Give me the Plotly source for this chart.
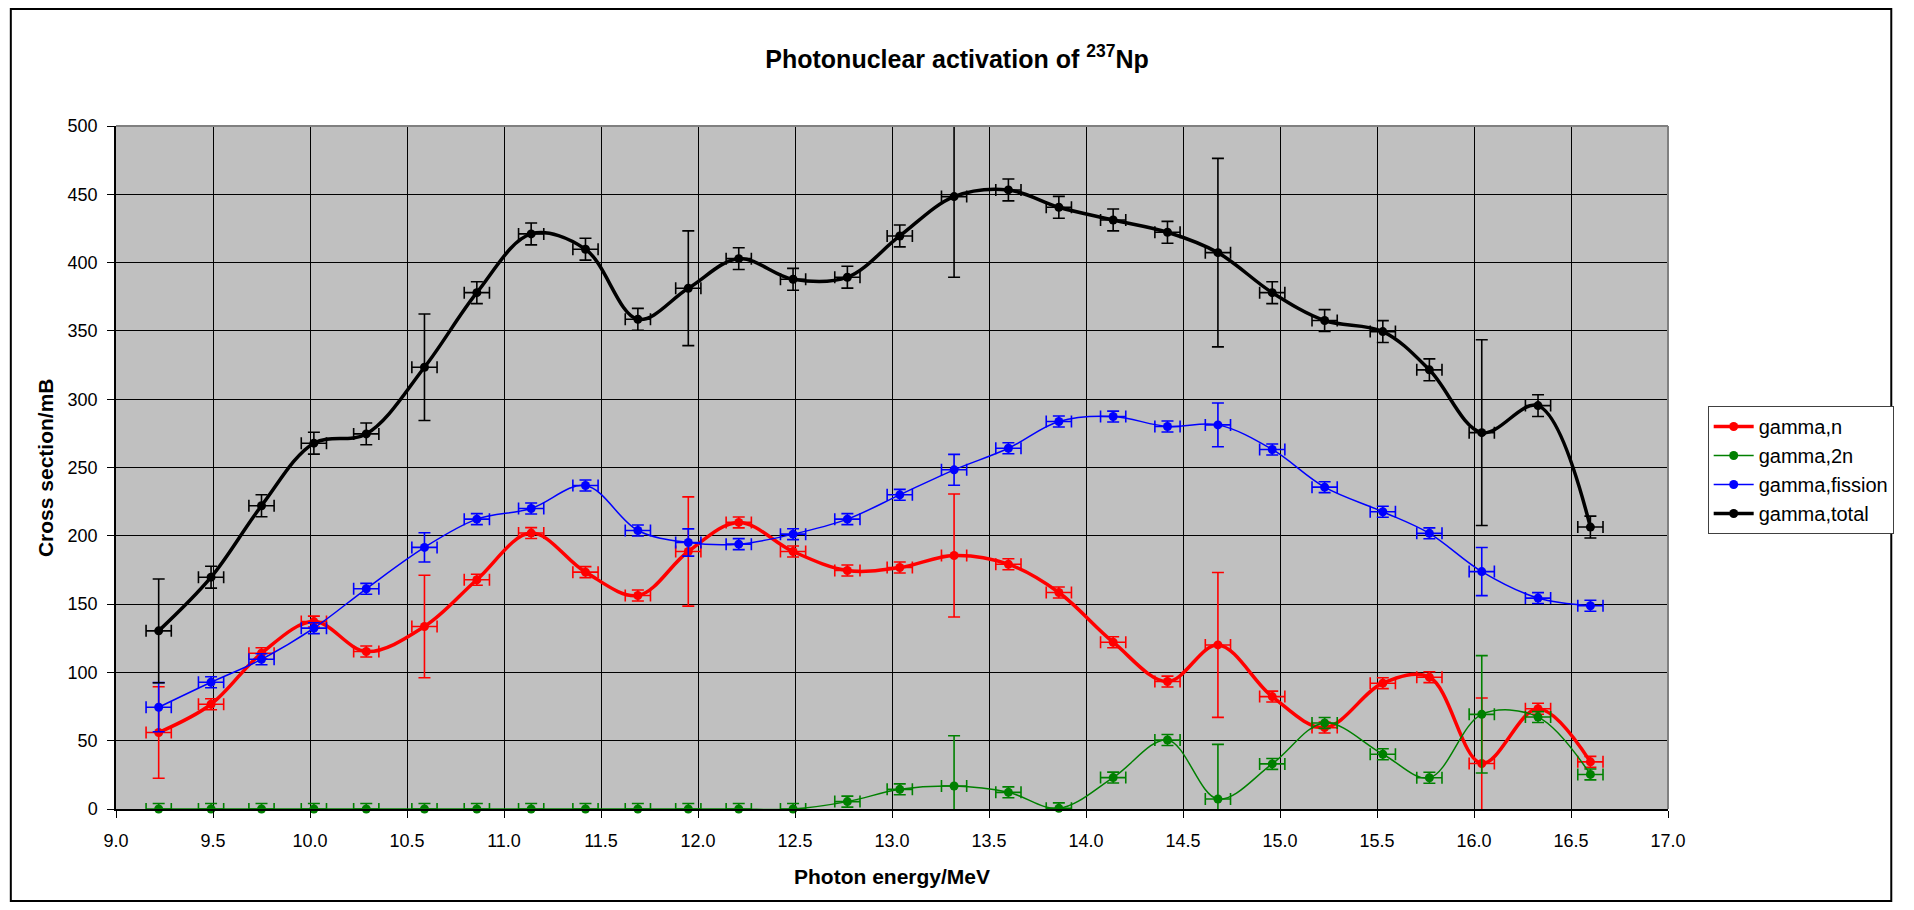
import plotly.graph_objects as go

energy = [9.22, 9.49, 9.75, 10.02, 10.29, 10.59, 10.86, 11.14, 11.42, 11.69,
          11.95, 12.21, 12.49, 12.77, 13.04, 13.32, 13.60, 13.86, 14.14, 14.42,
          14.68, 14.96, 15.23, 15.53, 15.77, 16.04, 16.33, 16.60]
energy_err = 0.065

gamma_n = [56.0, 76.7, 114.0, 137.2, 115.3, 133.6, 167.8, 202.0, 173.4, 156.3,
           188.5, 209.8, 188.5, 174.6, 176.8, 185.6, 179.2, 158.5, 122.1, 93.3,
           120.1, 82.3, 59.6, 92.1, 96.5, 33.3, 73.4, 34.5]
gamma_n_err = [33.5, 4, 4, 4, 4, 37.5, 4, 4, 4, 4, 40, 4, 4, 4, 4, 45, 4, 4, 4, 4,
               53, 4, 4, 4, 4, 48, 4, 4]

gamma_2n = [0, 0, 0, 0, 0, 0, 0, 0, 0, 0, 0, 0, 0, 5.4, 14.4, 16.8, 12.2, 0.5, 23.0,
            50.5, 7.3, 33.0, 63.0, 40.1, 22.9, 69.3, 67.3, 25.3]
gamma_2n_err = [4, 4, 4, 4, 4, 4, 4, 4, 4, 4, 4, 4, 4, 4, 4, 36.8, 4, 4, 4, 4,
                40, 4, 4, 4, 4, 43, 4, 4]

gamma_fission = [74.5, 92.8, 109.6, 132.4, 161.2, 191.5, 212.2, 220.0, 236.8, 203.9,
                 195.1, 193.9, 201.2, 212.2, 230.0, 248.3, 264.1, 283.7, 287.3, 280.0,
                 281.2, 263.2, 235.6, 217.6, 201.8, 173.8, 154.4, 148.8]
gamma_fission_err = [18, 4, 4, 4, 4, 10.7, 4, 4, 4, 4, 10, 4, 4, 4, 4, 11.3, 4, 4, 4, 4,
                     16, 4, 4, 4, 4, 17.6, 4, 4]

gamma_total = [130.4, 169.7, 222.0, 267.8, 274.6, 323.4, 378.0, 421.0, 409.8, 358.5,
               381.2, 402.9, 387.8, 389.3, 419.5, 448.3, 453.2, 440.5, 431.2, 422.2,
               407.3, 378.0, 357.6, 349.5, 321.5, 275.5, 295.3, 206.4]
gamma_total_err = [38, 8, 8, 8, 8, 39, 8, 8, 8, 8, 42, 8, 8, 8, 8, 59, 8, 8, 8, 8,
                   69, 8, 8, 8, 8, 68, 8, 8]

series = [
    ("gamma,n", gamma_n, gamma_n_err, "#FF0000", 3.5),
    ("gamma,2n", gamma_2n, gamma_2n_err, "#008000", 1.5),
    ("gamma,fission", gamma_fission, gamma_fission_err, "#0000FF", 1.5),
    ("gamma,total", gamma_total, gamma_total_err, "#000000", 3.5),
]

FONT = "Liberation Sans, Arial, sans-serif"

fig = go.Figure()
for name, vals, errs, color, lw in series:
    fig.add_trace(go.Scatter(
        x=energy, y=vals, name=name, mode="lines+markers",
        legendgroup=name,
        line=dict(color=color, width=lw, shape="spline", smoothing=1.0),
        marker=dict(color=color, size=9, symbol="circle"),
        error_y=dict(type="data", array=errs, visible=True, color=color,
                     thickness=1.6, width=6),
        error_x=dict(type="constant", value=energy_err, visible=True, color=color,
                     thickness=1.6, width=6),
        cliponaxis=False,
    ))

# page body has an 8px default margin: work in figure coordinates
OFF = 8
W, H = 1914 - 2 * OFF, 910 - 2 * OFF
L, R, T, B = 116 - OFF, 1680 - OFF, 126 - OFF, 809 - OFF
pw, ph = R - L, B - T

def px(xfig):
    return (xfig - L) / pw

def py(yfig):
    return (B - yfig) / ph

fig.update_layout(
    width=W, height=H,
    margin=dict(l=L, r=W - R, t=T, b=H - B, pad=0),
    paper_bgcolor="white",
    plot_bgcolor="#C0C0C0",
    font=dict(family=FONT, size=18, color="black"),
    title=dict(text="<b>Photonuclear activation of <sup>237</sup>Np</b>",
               x=0.5, xref="container", xanchor="center",
               y=1 - (59 - OFF) / H, yref="container", yanchor="middle",
               font=dict(family=FONT, size=25, color="black")),
    showlegend=True,
    legend=dict(x=px(1720 - OFF), y=py(406 - OFF), xanchor="left", yanchor="top",
                bgcolor="white", bordercolor="#404040", borderwidth=1,
                font=dict(family=FONT, size=20, color="black"),
                tracegroupgap=6, traceorder="normal",
                itemwidth=40),
    xaxis=dict(range=[9, 17], dtick=0.5, tick0=9, tickformat=".1f",
               showgrid=True, gridcolor="black", gridwidth=1,
               zeroline=False, showline=True, linecolor="black", linewidth=1.5,
               ticks="outside", ticklen=7, tickcolor="black", tickwidth=1,
               ticklabelstandoff=8,
               tickfont=dict(family=FONT, size=18, color="black")),
    yaxis=dict(range=[0, 500], dtick=50, tick0=0,
               showgrid=True, gridcolor="black", gridwidth=1,
               zeroline=False, showline=True, linecolor="black", linewidth=1.5,
               ticks="outside", ticklen=7, tickcolor="black", tickwidth=1,
               ticklabelstandoff=6,
               tickfont=dict(family=FONT, size=18, color="black")),
    annotations=[
        dict(text="<b>Photon energy/MeV</b>", xref="paper", yref="paper",
             x=0.5, y=py(876 - OFF), xanchor="center", yanchor="middle",
             showarrow=False, font=dict(family=FONT, size=21, color="black")),
        dict(text="<b>Cross section/mB</b>", xref="paper", yref="paper",
             x=px(45 - OFF), y=0.5, xanchor="center", yanchor="middle", textangle=-90,
             showarrow=False, font=dict(family=FONT, size=21, color="black")),
    ],
    shapes=[
        # plot-area border (top and right, grey)
        dict(type="line", xref="paper", yref="paper", x0=0, x1=1, y0=1, y1=1,
             line=dict(color="#808080", width=2), layer="above"),
        dict(type="line", xref="paper", yref="paper", x0=1, x1=1, y0=0, y1=1,
             line=dict(color="#808080", width=2), layer="above"),
        # outer chart border
        dict(type="rect", xref="paper", yref="paper",
             x0=px(2), x1=px(W - 1), y0=py(H - 1), y1=py(1),
             line=dict(color="black", width=2), fillcolor="rgba(0,0,0,0)",
             layer="above"),
    ],
)

fig.write_html("out.html")
